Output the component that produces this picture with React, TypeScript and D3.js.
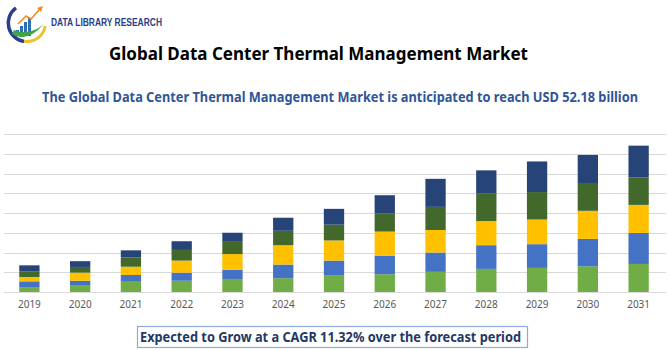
import React, { useEffect, useRef } from 'react';
import * as d3 from 'd3';

// values (gridline step = 10)
const years = ['2019', '2020', '2021', '2022', '2023', '2024', '2025', '2026', '2027', '2028', '2029', '2030', '2031'];
const seriesA = [2.5, 3.2, 5.2, 5.7, 6.6, 7.0, 8.3, 9.0, 10.2, 11.7, 12.2, 13.0, 14.2];
const seriesB = [2.9, 2.5, 3.4, 4.1, 4.6, 6.9, 7.6, 9.4, 9.8, 12.0, 12.0, 13.9, 15.7];
const seriesC = [2.2, 4.1, 4.2, 6.1, 8.0, 9.8, 10.2, 12.2, 11.4, 12.2, 12.5, 14.2, 14.2];
const seriesD = [2.9, 2.9, 4.7, 5.4, 6.6, 7.3, 8.0, 9.1, 11.7, 13.9, 13.9, 14.1, 13.9];
const seriesE = [3.0, 2.9, 3.6, 4.4, 4.2, 6.6, 8.0, 9.3, 14.2, 11.8, 15.5, 14.2, 16.1];
const seriesKeys = ['a', 'b', 'c', 'd', 'e'];
const seriesColors = ['#70AD47', '#4472C4', '#FFC000', '#43682B', '#264478'];
const yTicks = [0, 10, 20, 30, 40, 50, 60, 70, 80];

const title = 'Global Data Center Thermal Management Market';
const subtitle = 'The Global Data Center Thermal Management Market is anticipated to reach USD 52.18 billion';
const footer = 'Expected to Grow at a CAGR 11.32% over the forecast period';

const W = 670;
const H = 350;

const App: React.FC = () => {
  const svgRef = useRef<SVGSVGElement>(null);

  useEffect(() => {
    const svg = d3.select(svgRef.current);
    svg.selectAll('*').remove();

    const rows = years.map((y, i) => ({
      year: y,
      a: seriesA[i],
      b: seriesB[i],
      c: seriesC[i],
      d: seriesD[i],
      e: seriesE[i],
    }));

    const x = d3.scaleBand<string>().domain(years).range([4, 664]).paddingInner(0.6).paddingOuter(0.3);
    const y = d3.scaleLinear().domain([0, 80]).range([292, 134]);
    const color = d3.scaleOrdinal<string, string>().domain(seriesKeys).range(seriesColors);

    // gridlines
    svg
      .append('g')
      .selectAll('line')
      .data(yTicks)
      .join('line')
      .attr('x1', 4)
      .attr('x2', 666)
      .attr('y1', (d) => Math.round(y(d)) + 0.5)
      .attr('y2', (d) => Math.round(y(d)) + 0.5)
      .attr('stroke', '#D9D9D9')
      .attr('stroke-width', 1);

    const stacked = d3.stack<any>().keys(seriesKeys)(rows);

    svg
      .append('g')
      .selectAll('g')
      .data(stacked)
      .join('g')
      .attr('fill', (d) => color(d.key))
      .selectAll('rect')
      .data((d) => d)
      .join('rect')
      .attr('x', (d: any) => x(d.data.year) as number)
      .attr('width', x.bandwidth())
      .attr('y', (d) => y(d[1]))
      .attr('height', (d) => y(d[0]) - y(d[1]));

    // x axis labels
    const xAxis = svg
      .append('g')
      .attr('transform', 'translate(0,292)')
      .call(d3.axisBottom(x).tickSize(0).tickPadding(9));
    xAxis.select('.domain').remove();
    xAxis
      .selectAll('text')
      .attr('fill', '#595959')
      .attr('font-size', '10px')
      .attr('font-family', '"Noto Sans", sans-serif');

    // logo
    const logo = svg.append('g');
    logo
      .append('path')
      .attr('d', d3.arc()({ innerRadius: 17, outerRadius: 20.5, startAngle: -Math.PI * 0.95, endAngle: -Math.PI * 0.2 }) as string)
      .attr('transform', 'translate(27,23)')
      .attr('fill', '#2B3E8C');
    logo
      .append('path')
      .attr('d', d3.arc()({ innerRadius: 17, outerRadius: 20, startAngle: Math.PI * 0.55, endAngle: Math.PI * 1.05 }) as string)
      .attr('transform', 'translate(27,23)')
      .attr('fill', '#F2C12E');
    [[16, 30, 6], [20, 26, 10], [24, 22, 14], [28, 18, 18]].forEach(([bx, by, bh]) => {
      logo.append('rect').attr('x', bx).attr('y', by).attr('width', 3).attr('height', bh).attr('fill', '#2F6FB5');
    });
    logo
      .append('path')
      .attr('d', 'M12,34 Q26,44 44,24 Q30,36 14,30 Z')
      .attr('fill', '#3FA34D');
    logo
      .append('path')
      .attr('d', 'M18,24 L26,16 L31,19 L40,9')
      .attr('fill', 'none')
      .attr('stroke', '#F08A24')
      .attr('stroke-width', 1.6);
    logo.append('path').attr('d', 'M37,8 L43,6 L41,12 Z').attr('fill', '#F08A24');
    logo
      .append('text')
      .attr('x', 51)
      .attr('y', 25.5)
      .attr('textLength', 111)
      .attr('lengthAdjust', 'spacingAndGlyphs')
      .attr('font-family', '"Liberation Sans Narrow", "Liberation Sans", sans-serif')
      .attr('font-weight', 'bold')
      .attr('font-size', '10.5px')
      .attr('fill', '#2B3E8C')
      .text('DATA LIBRARY RESEARCH');

    // titles
    svg
      .append('text')
      .attr('x', 109)
      .attr('y', 60)
      .attr('textLength', 419)
      .attr('lengthAdjust', 'spacingAndGlyphs')
      .attr('font-family', '"Noto Sans", sans-serif')
      .attr('font-weight', 'bold')
      .attr('font-size', '18.5px')
      .attr('fill', '#000')
      .text(title);

    svg
      .append('text')
      .attr('x', 42)
      .attr('y', 101.5)
      .attr('textLength', 596)
      .attr('lengthAdjust', 'spacingAndGlyphs')
      .attr('font-family', '"Noto Sans", sans-serif')
      .attr('font-weight', 'bold')
      .attr('font-size', '13.5px')
      .attr('fill', '#2F5597')
      .text(subtitle);

    // footer box
    svg
      .append('rect')
      .attr('x', 137.5)
      .attr('y', 326.5)
      .attr('width', 390)
      .attr('height', 21)
      .attr('fill', '#fff')
      .attr('stroke', '#8EA9DB')
      .attr('stroke-width', 1.2);
    svg
      .append('text')
      .attr('x', 140)
      .attr('y', 341.5)
      .attr('textLength', 381)
      .attr('lengthAdjust', 'spacingAndGlyphs')
      .attr('font-family', '"Noto Sans", sans-serif')
      .attr('font-weight', 'bold')
      .attr('font-size', '13.5px')
      .attr('fill', '#1F3864')
      .text(footer);
  }, []);

  return (
    <svg
      ref={svgRef}
      width={W}
      height={H}
      style={{ position: 'absolute', left: 0, top: 0, background: '#fff' }}
    />
  );
};

export default App;
